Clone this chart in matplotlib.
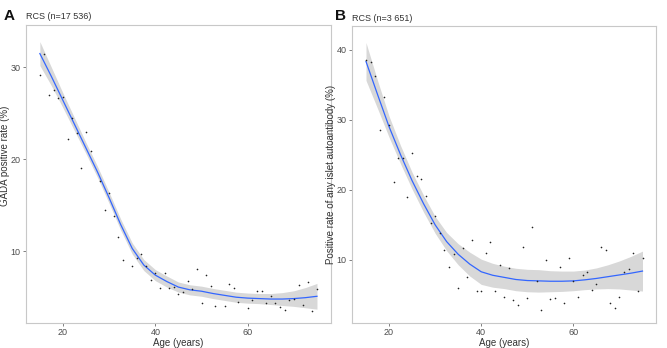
import matplotlib
matplotlib.use("Agg")
import matplotlib.pyplot as plt
import numpy as np

plt.rcParams["font.family"] = ["Liberation Sans", "DejaVu Sans"]

# ── data: GADA positive rate by age (panel A) ──
ages_a = [15, 16, 17, 18, 19, 20, 21, 22, 23, 24, 25, 26, 28, 29, 30, 31, 32,
          33, 35, 36, 37, 38, 39, 40, 41, 42, 43, 44, 45, 46, 47, 48, 49, 50,
          51, 52, 53, 55, 56, 57, 58, 60, 61, 62, 63, 64, 65, 66, 67, 68, 69,
          70, 71, 72, 73, 74, 75]
rate_a = [29.2, 31.4, 27.0, 27.5, 26.7, 26.8, 22.2, 24.5, 22.9, 19.0, 23.0,
          20.9, 17.6, 14.5, 16.3, 13.8, 11.5, 9.1, 8.4, 9.3, 9.7, 8.4, 6.9,
          7.6, 6.0, 7.6, 6.0, 6.1, 5.3, 5.6, 6.8, 5.9, 8.1, 4.4, 7.4, 6.2,
          4.0, 4.0, 6.4, 6.0, 4.5, 3.8, 4.7, 5.7, 5.7, 4.4, 5.1, 4.4, 3.9,
          3.6, 4.7, 4.8, 6.3, 4.1, 6.7, 3.5, 5.9]

# ── data: any islet autoantibody positive rate by age (panel B) ──
ages_b = list(range(15, 76))
rate_b = [38.5, 38.2, 36.2, 28.5, 33.3, 29.2, 21.1, 24.5, 24.6, 19.0, 25.2,
          22.0, 21.6, 19.1, 15.3, 16.2, 13.8, 11.4, 9.0, 10.9, 6.0, 11.7,
          7.6, 12.9, 5.5, 5.5, 11.0, 12.5, 5.5, 9.2, 4.7, 8.9, 4.3, 3.6,
          11.9, 4.6, 14.7, 7.0, 2.8, 10.0, 4.4, 4.6, 9.0, 3.8, 10.2, 7.0,
          4.7, 7.8, 8.3, 5.7, 6.6, 11.9, 11.4, 3.8, 3.2, 4.7, 8.3, 8.7,
          11.0, 5.5, 10.2]

# ── RCS fits with 95% CI half-widths ──
fit_age = [15, 17.5, 20, 22.5, 25, 27.5, 30, 32.5, 35, 37.5, 40, 42.5, 45,
           47.5, 50, 52.5, 55, 57.5, 60, 62.5, 65, 67.5, 70, 72.5, 75]
fit_a = [31.5, 29.0, 26.4, 23.8, 21.2, 18.6, 15.8, 12.9, 10.3, 8.5, 7.4,
         6.7, 6.1, 5.8, 5.65, 5.4, 5.2, 5.0, 4.9, 4.85, 4.8, 4.8, 4.85,
         4.95, 5.1]
ci_a = [1.3, 1.0, 0.8, 0.7, 0.6, 0.6, 0.6, 0.6, 0.6, 0.6, 0.6, 0.6, 0.55,
        0.55, 0.55, 0.55, 0.55, 0.55, 0.55, 0.55, 0.6, 0.7, 0.85, 1.1, 1.4]
fit_b = [38.3, 33.6, 29.0, 25.0, 21.3, 18.0, 15.0, 12.6, 10.8, 9.4, 8.3,
         7.8, 7.5, 7.2, 7.05, 7.0, 6.95, 6.95, 7.0, 7.15, 7.35, 7.6, 7.85,
         8.1, 8.4]
ci_b = [2.7, 2.0, 1.5, 1.3, 1.2, 1.2, 1.2, 1.3, 1.5, 1.7, 1.8, 1.7, 1.6,
        1.6, 1.6, 1.6, 1.5, 1.45, 1.4, 1.4, 1.5, 1.7, 2.0, 2.4, 2.85]

panels = [
    ("A", "RCS (n=17 536)", "GADA positive rate (%)",
     ages_a, rate_a, fit_a, ci_a, (2.2, 34.6), [10, 20, 30]),
    ("B", "RCS (n=3 651)", "Positive rate of any islet autoantibody (%)",
     ages_b, rate_b, fit_b, ci_b, (1.0, 43.3), [10, 20, 30, 40]),
]

fig = plt.figure(figsize=(6.67, 3.48), dpi=100)
boxes = [[0.039, 0.072, 0.457, 0.856], [0.528, 0.072, 0.456, 0.852]]
tag_x = [0.006, 0.502]
ylab_y = [0.56, 0.5]

for box, tx, ly, (tag, sub, ylab, x, y, fit, ci, ylim, yticks) in zip(
        boxes, tag_x, ylab_y, panels):
    ax = fig.add_axes(box)
    fit = np.array(fit)
    ci = np.array(ci)
    ax.fill_between(fit_age, fit - ci, fit + ci, color="#999999", alpha=0.38,
                    linewidth=0)
    ax.plot(fit_age, fit, color="#3366FF", lw=0.9)
    ax.scatter(x, y, s=1.4, color="#222222", zorder=3, linewidths=0)

    ax.set_xlim(12, 78)
    ax.set_ylim(*ylim)
    ax.set_xticks([20, 40, 60])
    ax.set_yticks(yticks)
    ax.tick_params(labelsize=6.5, colors="#4d4d4d", length=2, width=0.5,
                   pad=2)
    for s in ax.spines.values():
        s.set_color("#c8c8c8")
        s.set_linewidth(0.8)
    ax.set_xlabel("Age (years)", fontsize=7, color="#333333", labelpad=0.5)
    ax.set_ylabel(ylab, fontsize=7, color="#333333")
    ax.yaxis.set_label_coords(-0.054, ly)

    ax.text(0.0, 1.012, sub, transform=ax.transAxes, fontsize=6.5,
            color="#333333", ha="left", va="bottom")
    fig.text(tx, 0.975, tag, fontsize=11, fontweight="bold", ha="left",
             va="top", color="#111111")

fig.savefig("out.png", dpi=100)
